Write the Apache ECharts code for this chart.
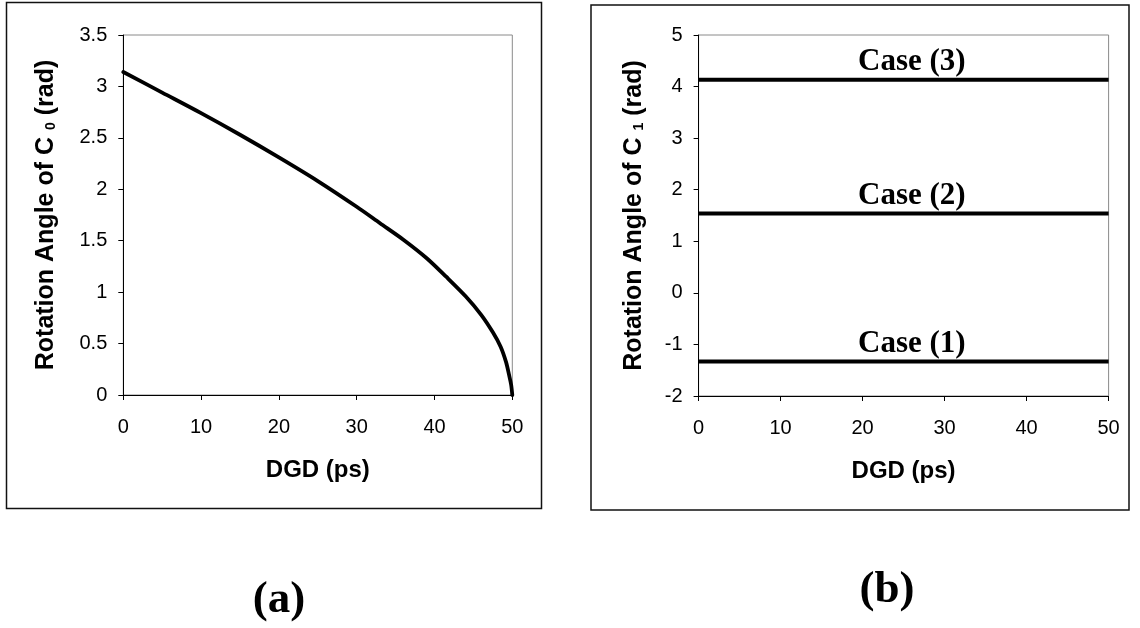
<!DOCTYPE html>
<html>
<head>
<meta charset="utf-8">
<script src="https://cdn.jsdelivr.net/npm/echarts@6/dist/echarts.min.js"></script>
<style>
  html, body { margin: 0; padding: 0; background: #fff; }
  #chart { width: 1140px; height: 628px; }
</style>
</head>
<body>
<div id="chart"></div>
<script>
// Panel (a): rotation angle of C0 versus DGD
const dgdC0 = [0, 5, 10, 15, 20, 25, 30, 33, 36, 39, 41.5, 44, 46, 47.5, 48.5, 49.2, 49.6, 49.85, 50];
const angleC0 = [3.14, 2.94, 2.74, 2.53, 2.31, 2.08, 1.83, 1.67, 1.51, 1.33, 1.15, 0.96, 0.78, 0.61, 0.47, 0.32, 0.19, 0.10, 0.0];

// Panel (b): rotation angle of C1, constant over DGD for each case
const dgdRange = [0, 50];
const caseNames = ['Case (1)', 'Case (2)', 'Case (3)'];
const angleC1 = [-1.33, 1.54, 4.13];
const caseLabelAt = 26;

const SANS = '"Liberation Sans", Arial, sans-serif';
const SERIF = '"Liberation Serif", "Times New Roman", serif';

function xAxisCfg(grid) {
  return {
    gridIndex: grid, type: 'value', min: 0, max: 50, interval: 10,
    name: 'DGD (ps)', nameLocation: 'middle', nameGap: 63,
    nameTextStyle: { fontFamily: SANS, fontWeight: 'bold', fontSize: 24, color: '#000' },
    axisLine: { show: true, onZero: false, lineStyle: { color: '#000', width: 1 } },
    axisTick: { show: true, length: 5, lineStyle: { color: '#000' } },
    axisLabel: { fontFamily: SANS, fontSize: 20, color: '#000', margin: 22 },
    splitLine: { show: false }
  };
}

function yAxisCfg(grid, min, max, interval, sub, gap) {
  return {
    gridIndex: grid, type: 'value', min: min, max: max, interval: interval,
    name: 'Rotation Angle of C {s|' + sub + '} (rad)', nameLocation: 'middle', nameGap: gap,
    nameTextStyle: {
      fontFamily: SANS, fontWeight: 'bold', fontSize: 25, color: '#000',
      rich: { s: { fontFamily: SANS, fontWeight: 'bold', fontSize: 14, color: '#000', verticalAlign: 'bottom' } }
    },
    axisLine: { show: true, onZero: false, lineStyle: { color: '#000', width: 1 } },
    axisTick: { show: true, length: 5, lineStyle: { color: '#000' } },
    axisLabel: { fontFamily: SANS, fontSize: 20, color: '#000', margin: 16 },
    splitLine: { show: false }
  };
}

const caseSeries = angleC1.map((v, i) => ({
  type: 'line', xAxisIndex: 1, yAxisIndex: 1,
  data: dgdRange.map(x => [x, v]),
  showSymbol: false, symbol: 'none',
  lineStyle: { color: '#000', width: 4 },
  markPoint: {
    symbol: 'circle', symbolSize: 0, silent: true,
    data: [{ coord: [caseLabelAt, v] }],
    label: {
      show: true, position: 'top', distance: 2,
      formatter: caseNames[i],
      fontFamily: SERIF, fontWeight: 'bold', fontSize: 31, color: '#000'
    }
  }
}));

const option = {
  animation: false,
  backgroundColor: '#fff',
  grid: [
    { left: 123.3, top: 35, width: 389, height: 360, show: true, borderColor: '#8a8a8a', borderWidth: 1 },
    { left: 698.6, top: 35, width: 410, height: 361, show: true, borderColor: '#8a8a8a', borderWidth: 1 }
  ],
  xAxis: [xAxisCfg(0), xAxisCfg(1)],
  yAxis: [yAxisCfg(0, 0, 3.5, 0.5, '0', 65), yAxisCfg(1, -2, 5, 1, '1', 52)],
  series: [
    {
      type: 'line', xAxisIndex: 0, yAxisIndex: 0,
      data: dgdC0.map((x, i) => [x, angleC0[i]]),
      smooth: 0.3, showSymbol: false, symbol: 'none',
      lineStyle: { color: '#000', width: 3.8, join: 'round', cap: 'round' }
    }
  ].concat(caseSeries),
  graphic: [
    { type: 'rect', shape: { x: 6.5, y: 2.5, width: 535, height: 506 }, style: { fill: 'none', stroke: '#111', lineWidth: 1.5 }, silent: true },
    { type: 'rect', shape: { x: 591, y: 5, width: 538, height: 505 }, style: { fill: 'none', stroke: '#111', lineWidth: 1.5 }, silent: true },
    { type: 'text', x: 279, y: 600, style: { text: '(a)', fontFamily: SERIF, fontWeight: 'bold', fontSize: 45, fill: '#000', align: 'center', verticalAlign: 'middle' }, silent: true },
    { type: 'text', x: 887, y: 590, style: { text: '(b)', fontFamily: SERIF, fontWeight: 'bold', fontSize: 45, fill: '#000', align: 'center', verticalAlign: 'middle' }, silent: true }
  ]
};

const chart = echarts.init(document.getElementById('chart'), null, { renderer: 'canvas' });
chart.setOption(option);
</script>
</body>
</html>
